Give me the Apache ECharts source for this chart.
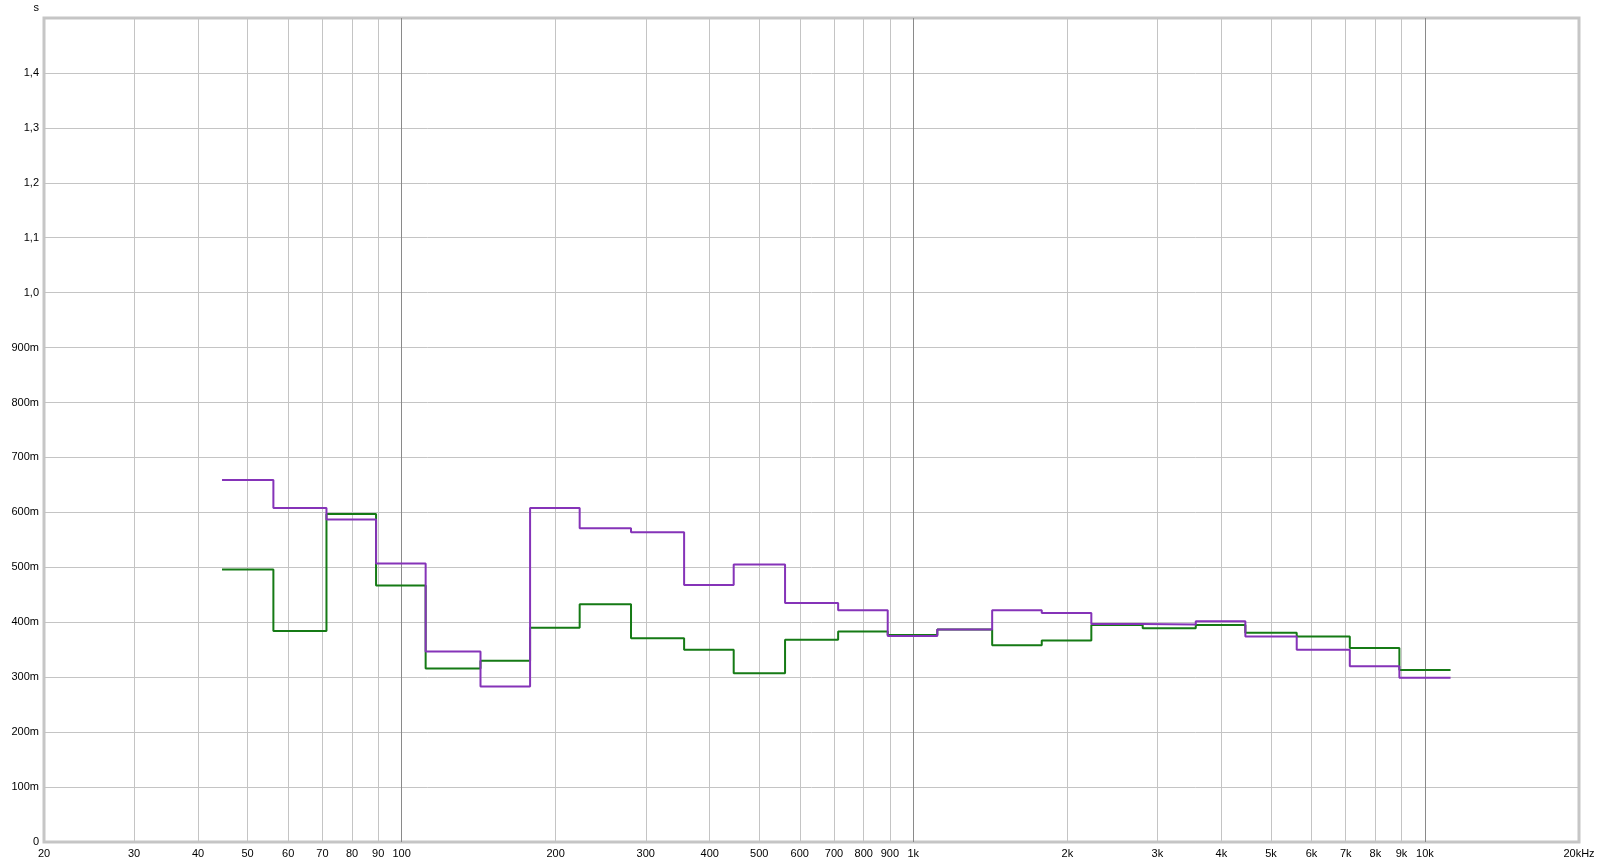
<!DOCTYPE html>
<html>
<head>
<meta charset="utf-8">
<script src="https://cdn.jsdelivr.net/npm/echarts@6/dist/echarts.min.js"></script>
<style>html,body{margin:0;padding:0;background:#fff}#c{width:1600px;height:865px}</style>
</head>
<body>
<div id="c"></div>
<script>
// Third-octave band centres (Hz)
const bandCenters = [50,63,80,100,125,160,200,250,315,400,500,630,800,1000,1250,1600,2000,2500,3150,4000,5000,6300,8000,10000];
// Decay times (s) per band
const purpleValues = [0.659,0.608,0.587,0.507,0.347,0.283,0.608,0.571,0.564,0.468,0.505,0.435,0.422,0.375,0.387,0.422,0.417,0.397,0.396,0.402,0.374,0.350,0.320,0.299];
const greenValues  = [0.496,0.384,0.597,0.467,0.316,0.330,0.390,0.433,0.371,0.350,0.307,0.368,0.383,0.377,0.387,0.358,0.367,0.395,0.389,0.395,0.381,0.374,0.353,0.313];
// X tick values and labels
const xTickValues = [20,30,40,50,60,70,80,90,100,200,300,400,500,600,700,800,900,1000,2000,3000,4000,5000,6000,7000,8000,9000,10000,20000];
const xTickLabels = ['20','30','40','50','60','70','80','90','100','200','300','400','500','600','700','800','900','1k','2k','3k','4k','5k','6k','7k','8k','9k','10k','20kHz'];
const majorTicks = [100,1000,10000];
// Y tick labels (0 .. 1.5 step 0.1)
const yTickLabels = ['0','100m','200m','300m','400m','500m','600m','700m','800m','900m','1,0','1,1','1,2','1,3','1,4',''];

function stepData(vals){
  const half = Math.pow(10, 0.05);
  const pts = bandCenters.map((c,i)=>[c/half, vals[i]]);
  pts.push([bandCenters[bandCenters.length-1]*half, vals[vals.length-1]]);
  return pts;
}

const font = "'Liberation Sans', Arial, sans-serif";
const chart = echarts.init(document.getElementById('c'), null, {renderer:'canvas'});
chart.setOption({
  animation:false,
  backgroundColor:'#ffffff',
  grid:{left:44, right:21, top:18, bottom:23, show:true, borderColor:'#c6c6c6', borderWidth:3, backgroundColor:'transparent'},
  xAxis:{type:'log', logBase:10, min:20, max:20000,
    axisLine:{show:false}, axisTick:{show:false}, axisLabel:{show:false},
    splitLine:{show:false}, minorSplitLine:{show:false}},
  yAxis:{type:'value', min:0, max:1.5, interval:0.1,
    name:'s', nameLocation:'end', nameGap:5,
    nameTextStyle:{color:'#000', fontSize:11, fontFamily:font, align:'right', padding:[0,5,0,0]},
    axisLine:{show:false}, axisTick:{show:false},
    axisLabel:{color:'#000', fontSize:11, fontFamily:font, margin:5,
      formatter:(v)=> yTickLabels[Math.round(v*10)]},
    splitLine:{show:true, lineStyle:{color:'#c4c4c4', width:1}}},
  series:[
    {type:'line', name:'grid', data:[], z:1, silent:true,
     markLine:{silent:true, symbol:['none','none'], z:1, animation:false,
       lineStyle:{type:'solid', color:'#c4c4c4', width:1},
       label:{show:true, position:'start', distance:6, color:'#000', fontSize:11, fontFamily:font,
         formatter:(p)=> xTickLabels[xTickValues.indexOf(p.value)]},
       emphasis:{disabled:true},
       data: xTickValues.map(v=>({xAxis:v,
         lineStyle: majorTicks.includes(v) ? {color:'#8a8a8a', width:1, type:'solid'}
                  : (v===20||v===20000) ? {color:'rgba(0,0,0,0)'} : {color:'#c4c4c4', width:1, type:'solid'}}))
     }},
    {type:'line', name:'green', step:'end', data:stepData(greenValues), showSymbol:false, z:3,
     lineStyle:{color:'#157a15', width:2}, itemStyle:{color:'#157a15'}},
    {type:'line', name:'purple', step:'end', data:stepData(purpleValues), showSymbol:false, z:4,
     lineStyle:{color:'#8533b8', width:2}, itemStyle:{color:'#8533b8'}}
  ]
});
</script>
</body>
</html>
